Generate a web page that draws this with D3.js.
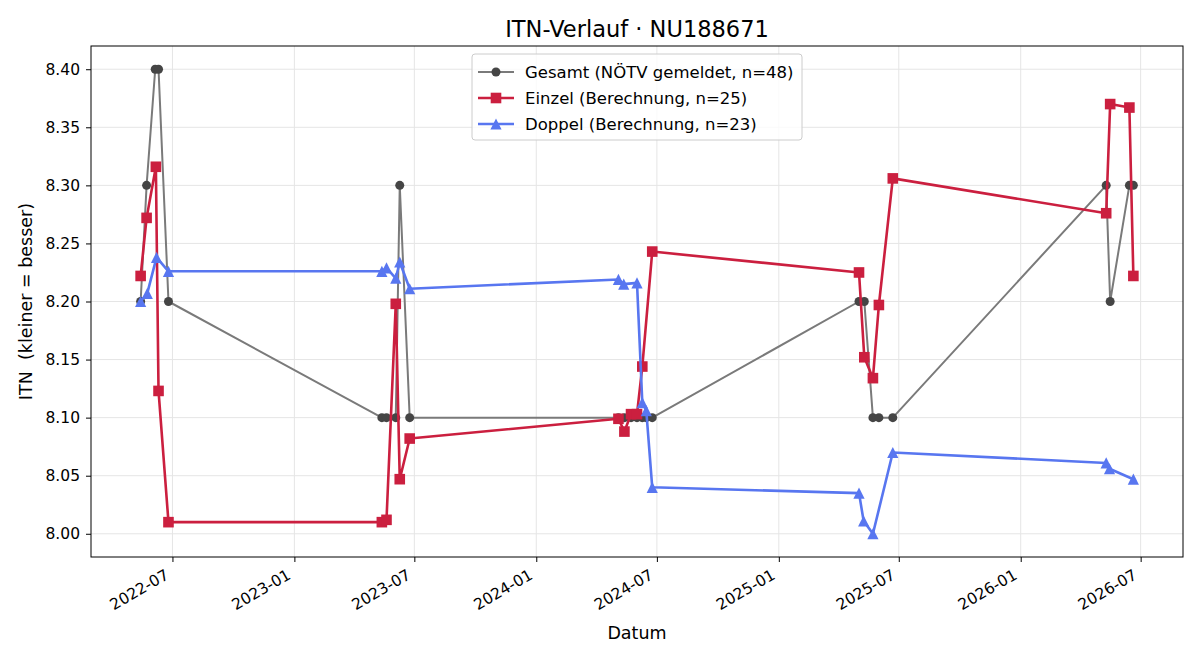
<!DOCTYPE html>
<html>
<head>
<meta charset="utf-8">
<title>ITN-Verlauf</title>
<script src="https://cdn.jsdelivr.net/npm/d3@7/dist/d3.min.js"></script>
<style>
    body { margin: 0; background: #fff; }
    text { font-family: 'DejaVu Sans', sans-serif; fill: #000; }
</style>
</head>
<body>
<svg width="1200" height="660" id="mainsvg"></svg>
<script>
    // --- data ---
    const gesamtDates = ['2022-05-14', '2022-05-23', '2022-06-05', '2022-06-10', '2022-06-25',
        '2023-05-13', '2023-05-20', '2023-06-03', '2023-06-09', '2023-06-24',
        '2024-05-04', '2024-05-13', '2024-05-23', '2024-06-01', '2024-06-09', '2024-06-15', '2024-06-24',
        '2025-05-02', '2025-05-10', '2025-05-23', '2025-06-01', '2025-06-22',
        '2026-05-10', '2026-05-16', '2026-06-14', '2026-06-20'];
    const gesamtValues = [8.20, 8.30, 8.40, 8.40, 8.20,
        8.10, 8.10, 8.10, 8.30, 8.10,
        8.10, 8.10, 8.10, 8.10, 8.10, 8.10, 8.10,
        8.20, 8.20, 8.10, 8.10, 8.10,
        8.30, 8.20, 8.30, 8.30];

    const einzelDates = ['2022-05-14', '2022-05-23', '2022-06-06', '2022-06-10', '2022-06-25',
        '2023-05-13', '2023-05-20', '2023-06-03', '2023-06-09', '2023-06-24',
        '2024-05-04', '2024-05-13', '2024-05-23', '2024-06-01', '2024-06-09', '2024-06-24',
        '2025-05-02', '2025-05-10', '2025-05-23', '2025-06-01', '2025-06-22',
        '2026-05-10', '2026-05-16', '2026-06-14', '2026-06-20'];
    const einzelValues = [8.222, 8.272, 8.316, 8.123, 8.010,
        8.010, 8.012, 8.198, 8.047, 8.082,
        8.099, 8.088, 8.103, 8.103, 8.144, 8.243,
        8.225, 8.152, 8.134, 8.197, 8.306,
        8.276, 8.370, 8.367, 8.222];

    const doppelDates = ['2022-05-14', '2022-05-24', '2022-06-07', '2022-06-25',
        '2023-05-13', '2023-05-20', '2023-06-03', '2023-06-09', '2023-06-24',
        '2024-05-04', '2024-05-12', '2024-06-01', '2024-06-09', '2024-06-15', '2024-06-24',
        '2025-05-02', '2025-05-09', '2025-05-23', '2025-06-22',
        '2026-05-10', '2026-05-15', '2026-06-20'];
    const doppelValues = [8.200, 8.207, 8.238, 8.226,
        8.226, 8.229, 8.220, 8.234, 8.211,
        8.219, 8.215, 8.216, 8.113, 8.106, 8.040,
        8.035, 8.011, 8.000, 8.070,
        8.061, 8.056, 8.047];

    const xTickLabels = ['2022-07', '2023-01', '2023-07', '2024-01', '2024-07',
        '2025-01', '2025-07', '2026-01', '2026-07'];
    const yTickValues = [8.00, 8.05, 8.10, 8.15, 8.20, 8.25, 8.30, 8.35, 8.40];

    const seriesNames = ['Gesamt (NÖTV gemeldet, n=48)', 'Einzel (Berechnung, n=25)', 'Doppel (Berechnung, n=23)'];

    // --- layout ---
    const svg = d3.select('#mainsvg');
    const width = +svg.attr('width');
    const height = +svg.attr('height');
    const margin = { top: 46, right: 17, bottom: 103, left: 91 };
    const innerWidth = width - margin.left - margin.right;
    const innerHeight = height - margin.top - margin.bottom;

    const parse = d3.timeParse('%Y-%m-%d');
    const parseMonth = d3.timeParse('%Y-%m');
    const toPoints = (dates, values) => dates.map((d, i) => ({ date: parse(d), value: values[i] }));

    const series = [
        { name: seriesNames[0], data: toPoints(gesamtDates, gesamtValues), line: '#7a7a7a', marker: '#454545', width: 2, shape: 'circle' },
        { name: seriesNames[1], data: toPoints(einzelDates, einzelValues), line: '#cb1f3f', marker: '#cb1f3f', width: 2.6, shape: 'square' },
        { name: seriesNames[2], data: toPoints(doppelDates, doppelValues), line: '#5876f0', marker: '#5876f0', width: 2.6, shape: 'triangle' }
    ];

    const allPts = series.flatMap(s => s.data);
    const dExt = d3.extent(allPts, d => d.date);
    const dPad = (dExt[1] - dExt[0]) * 0.05;
    const vExt = d3.extent(allPts, d => d.value);
    const vPad = (vExt[1] - vExt[0]) * 0.05;

    const xScale = d3.scaleTime()
        .domain([new Date(+dExt[0] - dPad), new Date(+dExt[1] + dPad)])
        .range([0, innerWidth]);
    const yScale = d3.scaleLinear()
        .domain([vExt[0] - vPad, vExt[1] + vPad])
        .range([innerHeight, 0]);

    const g = svg.append('g').attr('transform', `translate(${margin.left}, ${margin.top})`);

    const xTicks = xTickLabels.map(parseMonth);

    // grid
    g.append('g').selectAll('line').data(xTicks).join('line')
        .attr('x1', d => xScale(d)).attr('x2', d => xScale(d))
        .attr('y1', 0).attr('y2', innerHeight)
        .attr('stroke', '#e5e5e5').attr('stroke-width', 1);
    g.append('g').selectAll('line').data(yTickValues).join('line')
        .attr('y1', d => yScale(d)).attr('y2', d => yScale(d))
        .attr('x1', 0).attr('x2', innerWidth)
        .attr('stroke', '#e5e5e5').attr('stroke-width', 1);

    // axes
    const xAxis = d3.axisBottom(xScale).tickValues(xTicks).tickSize(5).tickFormat(d3.timeFormat('%Y-%m'));
    const xAxisGroup = g.append('g').attr('transform', `translate(0, ${innerHeight})`).call(xAxis);
    xAxisGroup.select('.domain').remove();
    xAxisGroup.selectAll('.tick line').attr('stroke', '#000');
    xAxisGroup.selectAll('.tick text')
        .attr('font-size', '15.5px')
        .attr('text-anchor', 'end')
        .attr('dy', null)
        .attr('y', null)
        .attr('transform', 'translate(-3, 21) rotate(-30)');

    const yAxis = d3.axisLeft(yScale).tickValues(yTickValues).tickSize(5).tickPadding(6).tickFormat(d3.format('.2f'));
    const yAxisGroup = g.append('g').call(yAxis);
    yAxisGroup.select('.domain').remove();
    yAxisGroup.selectAll('.tick line').attr('stroke', '#000');
    yAxisGroup.selectAll('.tick text').attr('font-size', '15.5px');

    // series
    const line = d3.line().x(d => xScale(d.date)).y(d => yScale(d.value));
    const drawMarker = (sel, s) => {
        if (s.shape === 'circle') {
            sel.append('circle').attr('r', 4.5).attr('fill', s.marker);
        } else if (s.shape === 'square') {
            sel.append('rect').attr('x', -5.3).attr('y', -5.3).attr('width', 10.6).attr('height', 10.6).attr('fill', s.marker);
        } else {
            sel.append('path').attr('d', 'M0,-5.6L-5.6,5.6L5.6,5.6Z').attr('fill', s.marker);
        }
    };

    series.forEach(s => {
        const sg = g.append('g');
        sg.append('path').datum(s.data)
            .attr('fill', 'none')
            .attr('stroke', s.line)
            .attr('stroke-width', s.width)
            .attr('stroke-linejoin', 'round')
            .attr('d', line);
        sg.selectAll('.pt').data(s.data).join('g')
            .attr('class', 'pt')
            .attr('transform', d => `translate(${xScale(d.date)}, ${yScale(d.value)})`)
            .each(function () { drawMarker(d3.select(this), s); });
    });

    // frame
    g.append('rect').attr('width', innerWidth).attr('height', innerHeight)
        .attr('fill', 'none').attr('stroke', '#000').attr('stroke-width', 1);

    // legend
    const lg = svg.append('g').attr('transform', 'translate(472, 54)');
    lg.append('rect').attr('width', 330).attr('height', 86).attr('rx', 3)
        .attr('fill', 'rgba(255,255,255,0.8)').attr('stroke', '#cccccc');
    series.forEach((s, i) => {
        const yy = 18 + i * 26;
        lg.append('line').attr('x1', 6).attr('x2', 42).attr('y1', yy).attr('y2', yy)
            .attr('stroke', s.line).attr('stroke-width', s.width);
        const m = lg.append('g').attr('transform', `translate(24, ${yy})`);
        drawMarker(m, s);
        lg.append('text').attr('x', 53).attr('y', yy).attr('dy', '0.35em')
            .attr('font-size', '16.5px').text(s.name);
    });

    // title & labels
    svg.append('text').attr('x', margin.left + innerWidth / 2).attr('y', 37)
        .attr('text-anchor', 'middle').attr('font-size', '22.5px').text('ITN-Verlauf · NU188671');
    svg.append('text').attr('x', margin.left + innerWidth / 2).attr('y', 639)
        .attr('text-anchor', 'middle').attr('font-size', '17.5px').text('Datum');
    svg.append('text').attr('transform', `translate(32, ${margin.top + innerHeight / 2}) rotate(-90)`)
        .attr('text-anchor', 'middle').attr('font-size', '17.5px')
        .style('white-space', 'pre')
        .text('ITN  (kleiner = besser)');
</script>
</body>
</html>
